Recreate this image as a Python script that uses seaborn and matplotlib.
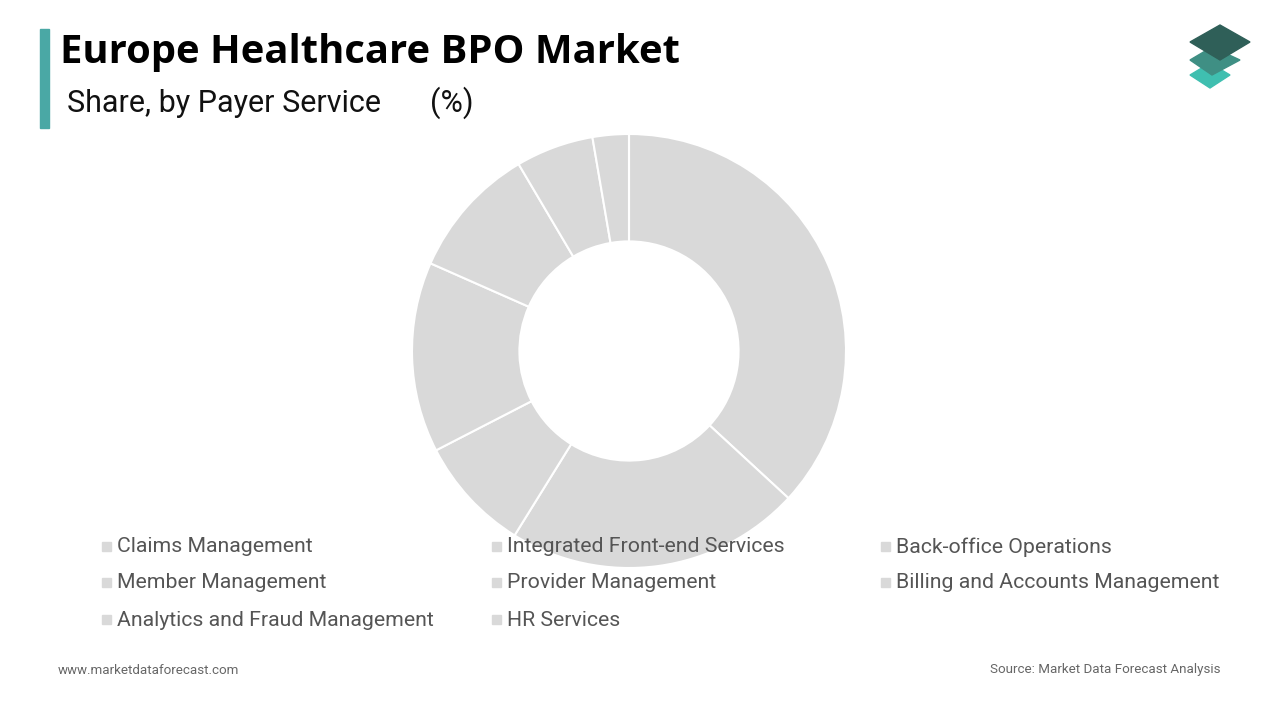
import matplotlib
matplotlib.use("Agg")
import matplotlib.pyplot as plt
import seaborn as sns
from matplotlib.patches import Polygon, Rectangle

sns.set_theme(style="white")
plt.rcParams['font.family'] = ['Roboto', 'DejaVu Sans']

categories = ["Claims Management", "Integrated Front-end Services", "Back-office Operations",
              "Member Management", "Provider Management", "Billing and Accounts Management",
              "Analytics and Fraud Management", "HR Services"]
shares = [36.9, 22.0, 8.6, 14.2, 9.9, 5.8, 2.7, 0.0]

W, H = 1280, 720
fig = plt.figure(figsize=(12.8, 7.2), dpi=100)
fig.patch.set_facecolor("white")

cx, cy, r = 629, 351, 217
ax = fig.add_axes([(cx - r) / W, (H - cy - r) / H, 2 * r / W, 2 * r / H])
colors = sns.color_palette(["#d9d9d9"] * len(shares))
ax.pie(shares, colors=colors, startangle=90, counterclock=False, radius=1,
       wedgeprops=dict(width=0.495, edgecolor="white", linewidth=1.5))
ax.set_xlim(-1, 1); ax.set_ylim(-1, 1); ax.set_aspect("equal"); ax.axis("off")

# title block
fig.patches.append(Rectangle((40 / W, 1 - 128 / H), 9 / W, 99 / H, transform=fig.transFigure,
                             color="#4aa8a5", zorder=3))
fig.text(60 / W, 1 - 52 / H, "Europe Healthcare BPO Market", fontsize=28.8, fontweight="bold",
         color="black", va="center", family=['Open Sans', 'DejaVu Sans'])
fig.text(67 / W, 1 - 103 / H, "Share, by Payer Service", fontsize=22, color="#111",
         va="center")
fig.text(430 / W, 1 - 103 / H, "(%)", fontsize=22, color="#111", va="center")

# logo
def poly(pts, c):
    fig.patches.append(Polygon([(x / W, 1 - y / H) for x, y in pts], closed=True,
                               transform=fig.transFigure, color=c, zorder=4))
poly([(1190, 75), (1210, 63), (1230, 75), (1210, 88)], "#3fbfb0")
poly([(1190, 60), (1212, 47), (1240, 60), (1212, 75)], "#3f8f84")
poly([(1190, 42), (1220, 25), (1250, 42), (1220, 60)], "#2f5f58")

# legend
xs = [102, 492, 881]
ys = [547, 583, 620]
for i, cat in enumerate(categories):
    x, y = xs[i % 3], ys[i // 3]
    fig.patches.append(Rectangle((x / W, 1 - (y + 4) / H), 9 / W, 9 / H,
                                 transform=fig.transFigure, color="#d9d9d9"))
    fig.text((x + 15) / W, 1 - y / H, cat, fontsize=15.3, color="#555555", va="center")

fig.text(58 / W, 1 - 670 / H, "www.marketdataforecast.com", fontsize=9.6, color="#666", va="center")
fig.text(1220 / W, 1 - 670 / H, "Source: Market Data Forecast Analysis", fontsize=9.6,
         color="#666", va="center", ha="right")

fig.savefig("out.png", dpi=100)
